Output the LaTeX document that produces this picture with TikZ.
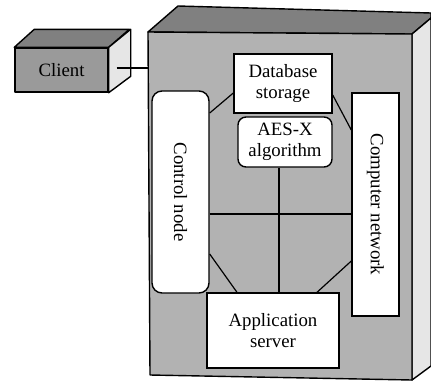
\documentclass[tikz,border=0pt]{standalone}
\usepackage{fontspec}
\setmainfont{Liberation Serif}
\begin{document}
\begin{tikzpicture}[x=1pt,y=-1pt,
  txt/.style={font=\fontsize{18.8}{21}\selectfont},
  edge/.style={line width=1.2pt,line join=round},
  face/.style={draw=black,line width=1.4pt,line join=round},
  box/.style={draw=black,fill=white,line width=1.4pt,inner sep=0pt,align=center,txt},
  rbox/.style={box,rounded corners=8pt}]
\useasboundingbox (0,0) rectangle (431,381);
\definecolor{frontc}{HTML}{B2B2B2}
\definecolor{topc}{HTML}{808080}
\definecolor{sidec}{HTML}{E6E6E6}
\definecolor{clientc}{HTML}{9A9A9A}
% main cabinet
\draw[face,fill=topc] (148,32) -- (178,6) -- (431,13) -- (431,18) -- (412,34) -- cycle;
\draw[face,fill=sidec] (412,34) -- (431,18) -- (431,366) -- (412,380) -- cycle;
\draw[face,fill=frontc] (148,32) -- (412,34) -- (412,380) -- (150,375) -- cycle;
\coordinate (mainL) at (148,68);
% client cube
\node[face,fill=clientc,minimum width=93pt,minimum height=44pt,inner sep=0pt,txt] (client) at (61.5,70) {Client};
\draw[face,fill=topc] (client.north west) -- ++(20,-18) -- ++(95,0) -- (client.north east) -- cycle;
\draw[face,fill=sidec] (client.north east) -- ++(22,-18) -- ++(0,47) -- (client.south east) -- cycle;
\draw[edge] ([xshift=8pt]client.east |- mainL) -- (mainL);
% inner nodes
\node[box,minimum width=98pt,minimum height=59pt] (db) at (283,83.5) {Database\\storage};
\node[rbox,minimum width=94pt,minimum height=50pt] (aes) at (285,142) {AES-X\\algorithm};
\node[box,minimum width=47pt,minimum height=223pt] (net) at (375.5,204.5) {};
\node[rotate=-90,txt] at (net.center) {Computer network};
\node[rbox,rounded corners=10pt,minimum width=57pt,minimum height=202pt] (ctrl) at (180.5,192) {};
\node[rotate=-90,txt] at (ctrl.center) {Control node};
\node[box,minimum width=132pt,minimum height=75pt] (app) at (273,330.5) {Application\\server};
% connectors
\draw[edge] (ctrl.east |- 0,113) -- (db.west |- 0,93);
\draw[edge] (db.east |- 0,95) -- (net.west |- 0,130);
\draw[edge] (aes.south -| 279,0) -- (app.north -| 279,0);
\draw[edge] (ctrl.east |- 0,214) -- (net.west |- 0,214);
\draw[edge] (ctrl.east |- 0,254) -- (app.north -| 237,0);
\draw[edge] (net.west |- 0,261) -- (app.north -| 317,0);
\end{tikzpicture}
\end{document}
